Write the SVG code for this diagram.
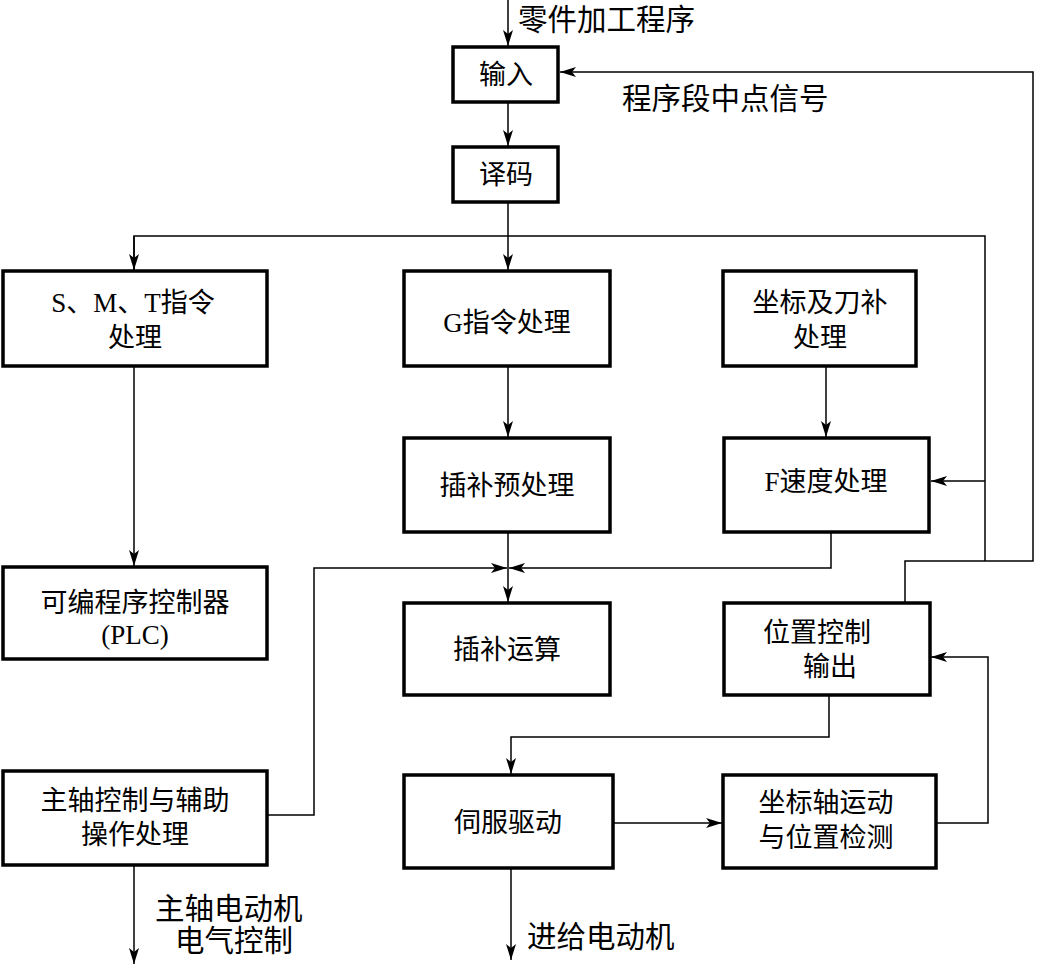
<svg xmlns="http://www.w3.org/2000/svg" width="1038" height="965" viewBox="0 0 1038 965">
<style>
.box{fill:#fff;stroke:#000;stroke-width:3.5}
.ln{fill:none;stroke:#000;stroke-width:1.5}
text{font-family:"Liberation Serif","Noto Sans CJK SC",serif;font-size:27px;fill:#000;text-anchor:middle;dominant-baseline:central}
.l{text-anchor:start;font-size:29.5px}
</style>
<defs>
<marker id="ah" viewBox="0 0 16 10" refX="16" refY="5" markerWidth="16" markerHeight="10" markerUnits="userSpaceOnUse" orient="auto">
<path d="M0,0 L16,5 L0,10 L4,5 Z" fill="#000"/>
</marker>
</defs>
<rect width="1038" height="965" fill="#fff"/>
<g id="connectors">
<path class="ln" d="M508,0 V46" marker-end="url(#ah)"/>
<path class="ln" d="M508,102 V146" marker-end="url(#ah)"/>
<path class="ln" d="M508,202 V270" marker-end="url(#ah)"/>
<path class="ln" d="M134,270 V236 H985 V561"/>
<path class="ln" d="M134,236 V270" marker-end="url(#ah)"/>
<path class="ln" d="M905,603 V561 H1033 V72 H560" marker-end="url(#ah)"/>
<path class="ln" d="M985,481 H931" marker-end="url(#ah)"/>
<path class="ln" d="M508,366 V437" marker-end="url(#ah)"/>
<path class="ln" d="M826,366 V437" marker-end="url(#ah)"/>
<path class="ln" d="M508,532 V602" marker-end="url(#ah)"/>
<path class="ln" d="M831,532 V568 H509" marker-end="url(#ah)"/>
<path class="ln" d="M268,815 H314 V568 H507" marker-end="url(#ah)"/>
<path class="ln" d="M134,366 V566" marker-end="url(#ah)"/>
<path class="ln" d="M134,865 V964" marker-end="url(#ah)"/>
<path class="ln" d="M829,695 V737 H511 V774" marker-end="url(#ah)"/>
<path class="ln" d="M613,823 H722" marker-end="url(#ah)"/>
<path class="ln" d="M936,823 H988 V657 H931" marker-end="url(#ah)"/>
<path class="ln" d="M511,868 V960" marker-end="url(#ah)"/>
</g>
<g id="labels">
<text class="l" x="518" y="20">零件加工程序</text>
<text class="l" x="622" y="99">程序段中点信号</text>
<text class="l" x="155" y="909">主轴电动机</text>
<text class="l" x="175" y="941">电气控制</text>
<text class="l" x="527" y="937">进给电动机</text>
</g>
<g id="n-input"><rect class="box" x="453" y="47" width="105" height="55"/><text x="506" y="75">输入</text></g>
<g id="n-decode"><rect class="box" x="453" y="147" width="105" height="55"/><text x="506" y="175">译码</text></g>
<g id="n-smt"><rect class="box" x="3" y="271" width="264" height="95"/><text x="133" y="303">S、M、T指令</text><text x="135" y="338">处理</text></g>
<g id="n-g"><rect class="box" x="404" y="271" width="206" height="95"/><text x="507" y="323">G指令处理</text></g>
<g id="n-coord"><rect class="box" x="723" y="271" width="193" height="95"/><text x="820" y="303">坐标及刀补</text><text x="820" y="338">处理</text></g>
<g id="n-pre"><rect class="box" x="404" y="438" width="206" height="94"/><text x="507" y="486">插补预处理</text></g>
<g id="n-f"><rect class="box" x="724" y="438" width="205" height="94"/><text x="826" y="482">F速度处理</text></g>
<g id="n-plc"><rect class="box" x="3" y="567" width="264" height="92"/><text x="135" y="603">可编程序控制器</text><text x="135" y="635">(PLC)</text></g>
<g id="n-interp"><rect class="box" x="404" y="603" width="206" height="92"/><text x="507" y="650">插补运算</text></g>
<g id="n-pos"><rect class="box" x="724" y="603" width="206" height="92"/><text x="817" y="633">位置控制</text><text x="830" y="667">输出</text></g>
<g id="n-spindle"><rect class="box" x="3" y="771" width="264" height="94"/><text x="135" y="801">主轴控制与辅助</text><text x="135" y="835">操作处理</text></g>
<g id="n-servo"><rect class="box" x="404" y="775" width="209" height="93"/><text x="508" y="823">伺服驱动</text></g>
<g id="n-axis"><rect class="box" x="723" y="775" width="213" height="93"/><text x="826" y="803">坐标轴运动</text><text x="826" y="838">与位置检测</text></g>
</svg>
